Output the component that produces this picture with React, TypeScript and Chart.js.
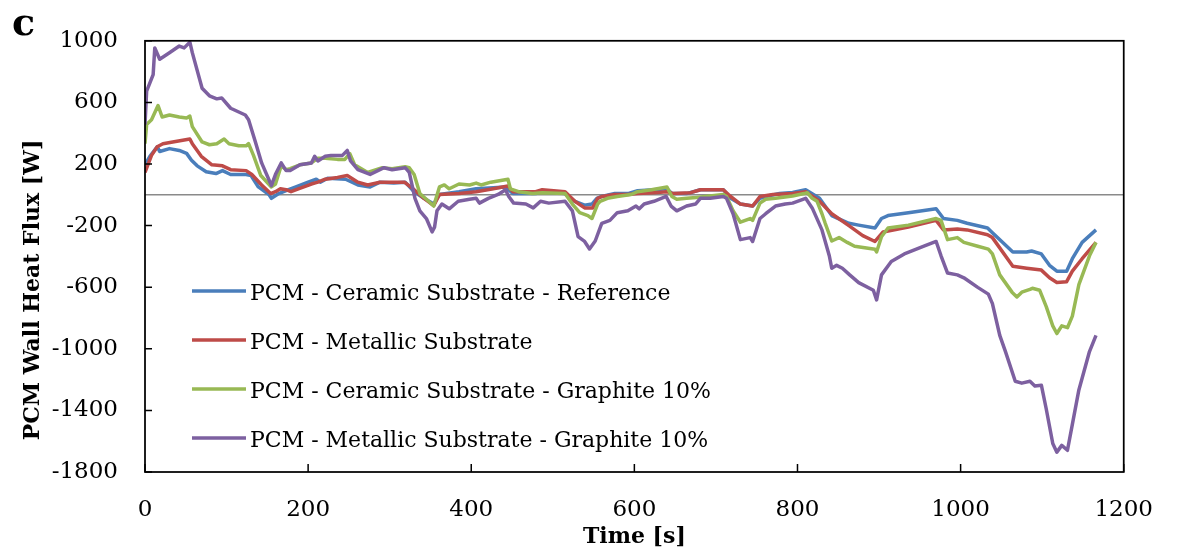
import React, { useEffect, useRef } from "react";
import { Chart, registerables } from "chart.js";

Chart.register(...registerables);

// ---------- data (time in s, heat flux in W) ----------
const seriesNames = [
  "PCM - Ceramic Substrate - Reference",
  "PCM - Metallic Substrate",
  "PCM - Ceramic Substrate - Graphite 10%",
  "PCM - Metallic Substrate - Graphite 10%",
];
const seriesColors = ["#4A7EBB", "#BE4B48", "#98B954", "#7D60A0"];

const refT = [0,6,15,18,30,42,51,57,64,75,87,95,105,124,130,139,152,155,164,176,185,200,210,215,224,246,261,276,288,305,319,330,342,354,361,385,406,427,442,451,479,487,515,527,539,548,554,560,576,592,604,624,640,646,664,681,709,718,730,745,754,761,778,794,810,827,842,863,875,895,903,911,936,970,979,996,1008,1033,1039,1064,1081,1087,1099,1109,1118,1130,1137,1149,1166];
const refV = [195,250,312,281,300,288,269,225,188,150,138,157,132,132,125,51,2,-23,8,33,51,82,101,82,107,101,64,51,82,76,82,20,-23,-60,2,20,39,45,51,8,8,20,8,-42,-67,-60,-23,-11,8,8,26,33,39,8,8,33,33,-23,-60,-73,-23,-11,8,15,33,-23,-135,-185,-197,-216,-154,-135,-116,-91,-154,-166,-185,-216,-247,-371,-371,-365,-384,-458,-496,-496,-415,-309,-228];

const metT = [0,8,15,22,34,55,58,69,82,95,105,124,131,143,154,160,166,173,179,188,204,212,221,236,248,261,273,288,318,330,342,354,361,385,406,427,445,451,479,487,515,527,539,549,555,560,576,592,604,624,640,648,669,681,709,718,730,745,754,770,794,810,827,842,863,880,895,905,936,970,979,996,1008,1033,1039,1064,1081,1099,1109,1118,1130,1137,1149,1166];
const metV = [145,256,312,332,343,362,332,250,195,188,163,157,132,64,8,20,39,33,20,39,70,82,101,113,125,82,64,82,82,33,-23,-70,2,8,20,39,57,20,20,33,20,-42,-85,-85,-23,-11,2,2,8,14,20,8,14,33,33,-11,-60,-73,-11,2,8,20,-42,-123,-200,-265,-303,-241,-210,-166,-228,-222,-228,-259,-278,-464,-477,-489,-539,-570,-564,-496,-415,-309];

const gcT = [0,2,8,15,16,21,30,42,51,55,58,70,79,88,97,103,115,124,127,133,142,155,160,167,173,178,190,204,212,221,236,245,251,257,273,291,303,319,324,330,337,345,354,361,367,373,385,398,406,412,424,445,448,458,475,487,515,524,533,543,548,555,558,567,579,596,604,621,640,646,652,664,676,709,713,721,730,742,745,754,761,773,794,808,812,818,824,830,834,842,851,861,870,895,897,903,911,936,970,976,984,996,1004,1021,1034,1039,1048,1063,1069,1075,1085,1088,1097,1105,1113,1118,1124,1131,1137,1145,1158,1166];
const gcV = [332,456,487,568,580,505,518,505,499,511,443,343,325,332,362,332,318,318,332,256,125,51,70,188,163,170,195,207,238,238,230,230,268,195,145,176,170,182,176,132,8,-29,-73,51,64,39,70,64,76,64,82,101,39,20,8,14,8,-60,-116,-135,-154,-60,-42,-23,-11,2,20,33,51,-11,-29,-23,-17,2,-11,-104,-178,-154,-166,-54,-29,-23,-8,8,14,-23,-42,-123,-185,-300,-278,-309,-334,-353,-371,-272,-216,-197,-154,-166,-291,-278,-309,-334,-353,-384,-520,-632,-663,-632,-614,-607,-620,-726,-851,-901,-851,-863,-788,-583,-396,-309];

const mgT = [0,2,10,12,18,30,42,48,55,58,70,79,88,94,105,123,127,135,143,155,160,167,173,178,190,204,208,212,221,228,242,248,252,261,276,293,303,319,324,331,337,345,352,355,358,364,373,384,398,406,410,421,433,442,446,452,467,476,485,495,515,524,531,539,545,552,560,570,579,592,602,606,612,624,639,645,652,664,675,681,693,709,713,721,730,742,745,754,761,773,785,794,810,818,830,839,842,848,855,864,875,893,897,903,915,931,955,970,976,984,996,1004,1021,1034,1039,1048,1055,1067,1075,1085,1091,1099,1105,1113,1118,1124,1131,1137,1145,1158,1166];
const mgV = [456,673,780,954,880,922,966,954,991,923,692,643,623,629,562,518,487,350,207,60,133,207,157,157,195,207,250,220,250,256,256,288,220,163,132,176,163,176,145,-23,-104,-154,-241,-210,-104,-60,-91,-42,-29,-23,-54,-23,2,33,-11,-54,-60,-85,-42,-54,-42,-104,-272,-303,-352,-300,-185,-166,-116,-104,-73,-91,-60,-42,-11,-73,-104,-73,-60,-23,-23,-11,-23,-123,-291,-278,-303,-154,-123,-73,-60,-54,-23,-85,-228,-396,-477,-458,-477,-520,-570,-620,-682,-520,-433,-384,-334,-303,-396,-508,-520,-539,-601,-645,-707,-913,-1018,-1211,-1223,-1211,-1242,-1236,-1391,-1615,-1671,-1627,-1659,-1491,-1267,-1018,-913];

const xMin = 0, xMax = 1200, xStep = 200;
const yMin = -1800, yMax = 1000, yStep = 400;
const xTitle = "Time [s]";
const yTitle = "PCM Wall Heat Flux [W]";
const panelLabel = "c";

const FONT = '"DejaVu Serif", "Liberation Serif", serif';

function zip(t: number[], v: number[]) {
  const n = Math.min(t.length, v.length);
  const out: { x: number; y: number }[] = [];
  for (let i = 0; i < n; i++) out.push({ x: t[i], y: v[i] });
  return out;
}

const decorPlugin = {
  id: "decor",
  beforeDatasetsDraw(chart: any) {
    const { ctx, chartArea: a, scales } = chart;
    const y0 = scales.y.getPixelForValue(0);
    ctx.save();
    ctx.strokeStyle = "#8a8a8a";
    ctx.lineWidth = 1.5;
    ctx.beginPath();
    ctx.moveTo(a.left, y0);
    ctx.lineTo(a.right, y0);
    ctx.stroke();
    ctx.restore();
  },
  afterDraw(chart: any) {
    const { ctx, chartArea: a, scales } = chart;
    ctx.save();
    ctx.strokeStyle = "#000";
    ctx.lineWidth = 1.75;
    ctx.strokeRect(a.left, a.top, a.right - a.left, a.bottom - a.top);
    ctx.lineWidth = 1.5;
    ctx.beginPath();
    scales.x.ticks.forEach((t: any) => {
      const px = scales.x.getPixelForValue(t.value);
      ctx.moveTo(px, a.bottom);
      ctx.lineTo(px, a.bottom - 8);
    });
    scales.y.ticks.forEach((t: any) => {
      const py = scales.y.getPixelForValue(t.value);
      ctx.moveTo(a.left, py);
      ctx.lineTo(a.left + 7, py);
    });
    ctx.stroke();

    // legend
    ctx.font = `22px ${FONT}`;
    ctx.textAlign = "left";
    ctx.textBaseline = "alphabetic";
    ctx.lineCap = "butt";
    seriesNames.forEach((name, i) => {
      const yy = 291 + i * 49;
      ctx.strokeStyle = seriesColors[i];
      ctx.lineWidth = 3.5;
      ctx.beginPath();
      ctx.moveTo(192, yy);
      ctx.lineTo(246, yy);
      ctx.stroke();
      ctx.fillStyle = "#000";
      ctx.fillText(name, 250, yy + 8.5);
    });

    // titles
    ctx.fillStyle = "#000";
    ctx.font = `bold 22px ${FONT}`;
    ctx.textAlign = "center";
    ctx.textBaseline = "alphabetic";
    ctx.fillText(xTitle, (a.left + a.right) / 2, 543);
    ctx.font = `bold 38px ${FONT}`;
    ctx.textAlign = "left";
    ctx.fillText(panelLabel, 12, 35);
    ctx.font = `bold 22px ${FONT}`;
    ctx.textAlign = "center";
    ctx.translate(39, 290);
    ctx.rotate(-Math.PI / 2);
    ctx.fillText(yTitle, 0, 0);
    ctx.restore();
  },
};

export default function App() {
  const ref = useRef<HTMLCanvasElement | null>(null);
  useEffect(() => {
    document.body.style.margin = "0";
    const canvas = ref.current;
    if (!canvas) return;
    const series = [zip(refT, refV), zip(metT, metV), zip(gcT, gcV), zip(mgT, mgV)];
    const chart = new Chart(canvas, {
      type: "line",
      data: {
        datasets: series.map((d, i) => ({
          label: seriesNames[i],
          data: d,
          borderColor: seriesColors[i],
          backgroundColor: seriesColors[i],
          borderWidth: 3.5,
          pointRadius: 0,
          tension: 0,
          borderJoinStyle: "round" as const,
          fill: false,
          order: 4 - i,
        })),
      },
      options: {
        animation: false,
        responsive: false,
        devicePixelRatio: 1,
        layout: { padding: { left: 0, top: 22, right: 40, bottom: 0 } },
        plugins: { legend: { display: false }, tooltip: { enabled: false } },
        scales: {
          x: {
            type: "linear",
            min: xMin,
            max: xMax,
            ticks: {
              stepSize: xStep,
              color: "#000",
              font: { family: FONT, size: 23 },
              padding: 24,
              maxRotation: 0,
              callback: (v: any) => String(v),
            },
            grid: { display: false, drawTicks: false },
            border: { display: false },
            afterFit: (s: any) => { s.height = 80; },
          },
          y: {
            type: "linear",
            min: yMin,
            max: yMax,
            ticks: {
              stepSize: yStep,
              color: "#000",
              font: { family: FONT, size: 23 },
              padding: 27,
              callback: (v: any) => String(v),
            },
            grid: { display: false, drawTicks: false },
            border: { display: false },
            afterFit: (s: any) => { s.width = 145; },
          },
        },
      },
      plugins: [decorPlugin],
    } as any);
    return () => chart.destroy();
  }, []);
  return (
    <div style={{ width: 1177, height: 552, background: "#fff" }}>
      <canvas ref={ref} width={1177} height={552} style={{ display: "block" }} />
    </div>
  );
}
